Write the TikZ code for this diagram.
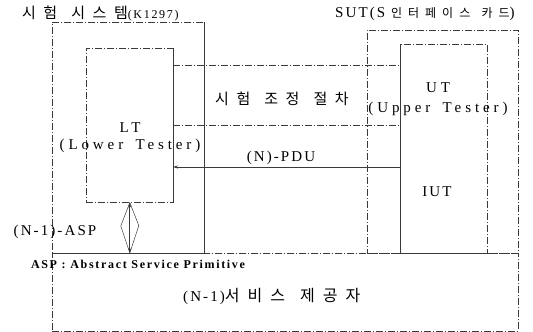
\documentclass[tikz,border=0pt]{standalone}
\usepackage{fontspec}
\setmainfont{Liberation Serif}
\newfontfamily\kor[LetterSpace=50,WordSpace=1.3]{Noto Sans CJK KR}
\newfontfamily\spc[LetterSpace=26,WordSpace=1.6]{Liberation Serif}
\newfontfamily\spcnarrow[LetterSpace=14]{Liberation Serif}
\newfontfamily\spcbold[LetterSpace=14]{Liberation Serif}
\usetikzlibrary{arrows.meta,positioning}
\definecolor{ScanGray}{HTML}{3A3A3A}

\begin{document}
\begin{tikzpicture}[x=1pt,y=-1pt,
        frame/.style={draw=ScanGray,line width=0.6pt,
                      dash pattern=on 7pt off 2pt on 1pt off 2pt,
                      minimum width=#1,inner sep=0pt,anchor=north west},
        solidedge/.style={ScanGray,line width=0.7pt},
        dashedge/.style={ScanGray,line width=0.6pt,
                         dash pattern=on 7pt off 2pt on 1pt off 2pt},
        lbl/.style={inner sep=0pt,font=\spc\fontsize{15}{16}\selectfont},
        nlbl/.style={inner sep=0pt,font=\spcnarrow\fontsize{15}{16}\selectfont},
        klbl/.style={inner sep=0pt,font=\kor\fontsize{15}{16}\selectfont},
        arrow/.style={-{Stealth[length=5pt,width=3pt]},ScanGray,line width=0.7pt}]
  \useasboundingbox (0,0) rectangle (533,332);
  % boxes
  \node[frame=466pt,minimum height=78pt] (prov) at (52,253) {};
  \node[frame=152pt,minimum height=231pt] (sys) at (52,22) {};
  \node[frame=151pt,minimum height=223pt] (sut) at (367,30) {};
  \node[frame=87pt,minimum height=154pt] (lt) at (86,48) {};
  \node[frame=87pt,minimum height=209pt] (ut) at (400,44) {};
  \draw[solidedge] (sys.north east) -- (sys.south east);
  \draw[solidedge] (lt.north east) -- (lt.south east);
  \draw[solidedge] (ut.north west) -- (ut.south west);
  % test coordination procedure channel
  \coordinate (coordNW) at (173,65);
  \coordinate (coordNE) at (400,65);
  \coordinate (coordSW) at (173,125);
  \coordinate (coordSE) at (400,125);
  \draw[dashedge] (coordNW) -- (coordNE);
  \draw[dashedge] (coordSW) -- (coordSE);
  % (N)-PDU
  \coordinate (pduL) at (173,167);
  \coordinate (pduR) at (400,167);
  \draw[arrow] (pduR) -- (pduL);
  % (N-1)-ASP
  \coordinate (aspT) at (lt.south);
  \coordinate (aspB) at (lt.south |- prov.north);
  \draw[{Stealth[length=5pt,width=3pt]}-{Stealth[length=5pt,width=3pt]},ScanGray,line width=1pt] (aspT) -- (aspB);
  \draw[ScanGray,line width=0.5pt] (aspT) -- ++(9,23) -- (aspB) -- ++(-9,-27) -- cycle;
  % labels
  \node[anchor=west,inner sep=0pt] (sysname) at (22,14)
    {{\kor\fontsize{15}{16}\selectfont 시험 시스템}{\spcnarrow\fontsize{12}{13}\selectfont (K1297)}};
  \node[anchor=west,inner sep=0pt] (sutname) at (335,14)
    {{\spcnarrow\fontsize{15}{16}\selectfont SUT(S }{\kor\fontsize{12}{13}\selectfont 인터페이스 카드}{\spcnarrow\fontsize{15}{16}\selectfont )}};
  \node[lbl] (ltname) at (130,128) {LT};
  \node[lbl] (ltlong) at (130,146) {(Lower Tester)};
  \node[klbl] (coordname) at (282,99) {시험 조정 절차};
  \node[lbl] (utname) at (438,88) {UT};
  \node[lbl] (utlong) at (438,109) {(Upper Tester)};
  \node[nlbl] (pduname) at (281,158) {(N)-PDU};
  \node[nlbl] (iutname) at (437,192) {IUT};
  \node[nlbl] (aspname) at (55,232) {(N-1)-ASP};
  \node[inner sep=0pt,font=\spcbold\bfseries\fontsize{12}{13}\selectfont] (aspnote) at (138,264) {ASP : Abstract Service Primitive};
  \node[inner sep=0pt,anchor=west] (provname) at (183,296)
    {{\spcnarrow\fontsize{15}{16}\selectfont (N-1)}{\kor\fontsize{16}{17}\selectfont 서비스 제공자}};
\end{tikzpicture}
\end{document}
